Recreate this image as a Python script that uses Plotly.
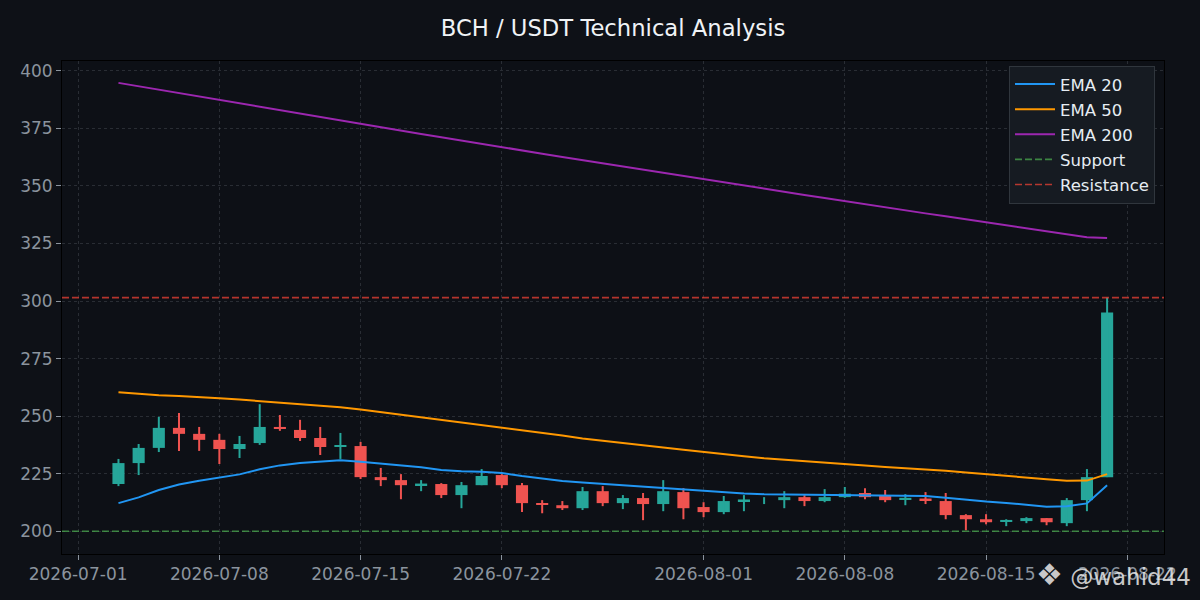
import plotly.graph_objects as go
import pandas as pd

# ---------------- data ----------------
dates = pd.date_range("2026-07-03", periods=50, freq="D")

opens = [220.5, 229.6, 236.2, 244.9, 242.3, 239.7, 235.7, 238.3, 245.3, 244.0,
         240.5, 236.6, 237.0, 223.5, 222.2, 220.0, 220.5, 215.7, 220.0, 224.4,
         220.0, 212.2, 211.3, 210.0, 217.4, 212.2, 214.4, 211.8, 217.0, 210.5,
         208.3, 213.1, 213.5, 213.5, 214.8, 213.1, 214.8, 216.6, 215.3, 213.8,
         214.2, 213.1, 207.0, 205.2, 204.2, 204.4, 205.7, 203.5, 213.5, 223.5]
closes = [229.6, 236.2, 244.9, 242.3, 239.7, 235.7, 237.9, 245.3, 244.5, 240.5,
          236.6, 237.3, 223.5, 222.2, 220.0, 220.7, 215.7, 220.0, 224.0, 220.0,
          212.2, 211.5, 210.0, 217.4, 212.2, 214.4, 211.8, 217.4, 210.0, 208.3,
          213.1, 213.8, 213.5, 214.8, 213.1, 214.8, 216.3, 214.8, 213.5, 214.5,
          213.4, 207.0, 205.2, 203.9, 204.9, 205.7, 203.9, 213.5, 223.5, 295.0]
highs = [231.4, 237.9, 249.7, 251.4, 245.3, 242.3, 241.4, 255.2, 250.5, 248.4,
         245.3, 242.7, 238.8, 227.5, 224.8, 222.2, 220.9, 221.4, 227.0, 224.8,
         220.9, 213.5, 213.1, 219.2, 219.6, 215.7, 216.6, 222.2, 218.7, 212.6,
         215.3, 215.7, 214.8, 217.4, 215.7, 218.3, 219.2, 218.7, 217.9, 216.1,
         217.0, 216.6, 207.4, 207.4, 205.2, 206.1, 205.7, 214.4, 227.0, 301.5]
lows = [219.6, 224.4, 234.4, 234.9, 234.9, 229.2, 231.8, 237.5, 243.6, 239.2,
        233.1, 231.4, 222.7, 219.6, 213.9, 217.4, 214.4, 210.0, 220.0, 218.7,
        208.3, 207.8, 209.2, 209.2, 210.9, 209.6, 204.8, 208.7, 205.2, 206.1,
        207.4, 208.7, 211.8, 210.0, 210.9, 212.6, 214.5, 213.9, 212.6, 211.3,
        211.8, 205.2, 200.4, 203.0, 202.2, 203.5, 202.6, 202.2, 208.7, 223.5]

ema20 = [212.2, 214.7, 217.9, 220.3, 221.9, 223.2, 224.7, 226.9, 228.6, 229.6,
         230.2, 230.8, 230.2, 229.5, 228.6, 227.8, 226.6, 226.0, 225.8, 225.3,
         224.0, 223.0, 221.8, 221.2, 220.6, 220.0, 219.3, 218.9, 218.0, 217.4,
         216.9, 216.4, 216.1, 216.0, 215.8, 215.8, 215.8, 215.7, 215.5, 215.4,
         215.3, 214.5, 213.6, 212.9, 212.3, 211.5, 210.6, 210.9, 212.1, 220.0]
ema50 = [260.4, 259.7, 259.1, 258.8, 258.4, 257.8, 257.2, 256.5, 255.9, 255.4,
         254.7, 253.9, 252.9, 251.8, 250.6, 249.5, 248.3, 247.2, 246.3, 245.0,
         243.9, 242.8, 241.6, 240.3, 239.4, 238.5, 237.4, 236.4, 235.4, 234.4,
         233.3, 232.6, 231.7, 231.0, 230.3, 229.7, 229.1, 228.5, 227.9, 227.4,
         226.9, 226.3, 225.5, 224.7, 224.0, 223.3, 222.6, 221.9, 222.0, 224.8]
ema200 = [394.8, 393.3, 391.8, 390.3, 388.8, 387.3, 385.8, 384.3, 382.8, 381.3,
          379.9, 378.4, 377.0, 375.5, 374.0, 372.6, 371.2, 369.7, 368.3, 366.9,
          365.5, 364.0, 362.6, 361.2, 359.8, 358.4, 357.0, 355.7, 354.3, 352.9,
          351.5, 350.2, 348.8, 347.4, 346.1, 344.8, 343.4, 342.1, 340.7, 339.4,
          338.1, 336.8, 335.5, 334.2, 332.9, 331.6, 330.3, 329.0, 327.7, 327.4]

support = 200.0
resistance = 301.5

x_tick_dates = ["2026-07-01", "2026-07-08", "2026-07-15", "2026-07-22",
                "2026-08-01", "2026-08-08", "2026-08-15", "2026-08-22"]
y_ticks = [200, 225, 250, 275, 300, 325, 350, 375, 400]

# ---------------- style ----------------
BG = "#0e1117"
PLOT_BG = "#0d1016"
GREEN = "#26a69a"
RED = "#ef5350"
TICK_COLOR = "#8b949e"
GRID_COLOR = "rgba(139,148,158,0.22)"
FONT = "DejaVu Sans"
DAY_MS = 86400000

fig = go.Figure()

for is_up, color in ((True, GREEN), (False, RED)):
    idx = [i for i in range(len(dates)) if (closes[i] >= opens[i]) == is_up]
    # wicks
    wx, wy = [], []
    for i in idx:
        wx += [dates[i], dates[i], None]
        wy += [lows[i], highs[i], None]
    fig.add_trace(go.Scatter(x=wx, y=wy, mode="lines",
                             line=dict(color=color, width=2),
                             showlegend=False, hoverinfo="skip"))
    # bodies
    fig.add_trace(go.Bar(
        x=[dates[i] for i in idx],
        y=[abs(closes[i] - opens[i]) for i in idx],
        base=[min(opens[i], closes[i]) for i in idx],
        width=0.6 * DAY_MS,
        marker=dict(color=color, line=dict(width=0)),
        showlegend=False, hoverinfo="skip"))


def leg(name):
    return "<span style='font-size:16.5px'>" + name + "</span>"


fig.add_trace(go.Scatter(x=dates, y=ema20, mode="lines", name=leg("EMA 20"),
                         line=dict(color="#2196f3", width=2)))
fig.add_trace(go.Scatter(x=dates, y=ema50, mode="lines", name=leg("EMA 50"),
                         line=dict(color="#ff9800", width=2)))
fig.add_trace(go.Scatter(x=dates, y=ema200, mode="lines", name=leg("EMA 200"),
                         line=dict(color="#9c27b0", width=2)))

SUP_COLOR = "rgba(76,175,80,0.72)"
RES_COLOR = "rgba(244,67,54,0.72)"
fig.add_hline(y=support, line=dict(color=SUP_COLOR, width=1.6, dash="7px,3px"))
fig.add_hline(y=resistance, line=dict(color=RES_COLOR, width=1.6, dash="7px,3px"))
fig.add_trace(go.Scatter(x=[None], y=[None], mode="lines", name=leg("Support"),
                         line=dict(color=SUP_COLOR, width=1.6, dash="7px,3px")))
fig.add_trace(go.Scatter(x=[None], y=[None], mode="lines", name=leg("Resistance"),
                         line=dict(color=RES_COLOR, width=1.6, dash="7px,3px")))

fig.update_layout(
    width=1200, height=600,
    paper_bgcolor=BG, plot_bgcolor=PLOT_BG,
    margin=dict(l=62, r=36, t=61, b=46),
    barmode="overlay",
    font=dict(family=FONT, color=TICK_COLOR, size=17),
    title=dict(text="BCH / USDT Technical Analysis", x=0.5, xref="paper",
               y=1 - 28 / 600, yref="container", yanchor="middle", xanchor="center",
               font=dict(family=FONT, size=22.7, color="#f0f3f6")),
    legend=dict(x=(1155 - 62) / 1102, y=(554 - 65.5) / 493,
                xanchor="right", yanchor="top",
                bgcolor="#161b22", bordercolor="#30363d", borderwidth=1,
                font=dict(family=FONT, size=17, color="#e6edf3"),
                tracegroupgap=0, itemwidth=40),
    showlegend=True,
)

fig.update_xaxes(
    type="date",
    range=["2026-06-30 04:50", "2026-08-23 19:40"],
    tickvals=x_tick_dates, ticktext=x_tick_dates,
    showgrid=True, gridcolor=GRID_COLOR, griddash="dot", gridwidth=1,
    zeroline=False,
    ticks="outside", ticklen=5, tickcolor=TICK_COLOR, tickwidth=1,
    tickfont=dict(family=FONT, size=17, color=TICK_COLOR),
    showline=True, linecolor="#000000", linewidth=1, mirror=True,
)
fig.update_yaxes(
    range=[190.1, 404.3],
    tickvals=y_ticks,
    showgrid=True, gridcolor=GRID_COLOR, griddash="dot", gridwidth=1,
    zeroline=False,
    ticks="outside", ticklen=5, tickcolor=TICK_COLOR, tickwidth=1,
    tickfont=dict(family=FONT, size=17, color=TICK_COLOR),
    showline=True, linecolor="#000000", linewidth=1, mirror=True,
)

fig.add_annotation(text="<span style='font-size:30px'>❖</span> @wahid44",
                   xref="paper", yref="paper",
                   x=(1193 - 62) / 1102, y=(554 - 574) / 493,
                   xanchor="right", yanchor="middle", showarrow=False,
                   font=dict(family=FONT, size=23, color="rgba(235,235,235,0.85)"))

fig.write_html(
    "out.html",
    config={"displayModeBar": False},
    post_script="document.body.style.margin='0';"
                "document.body.style.background='#0e1117';",
)
